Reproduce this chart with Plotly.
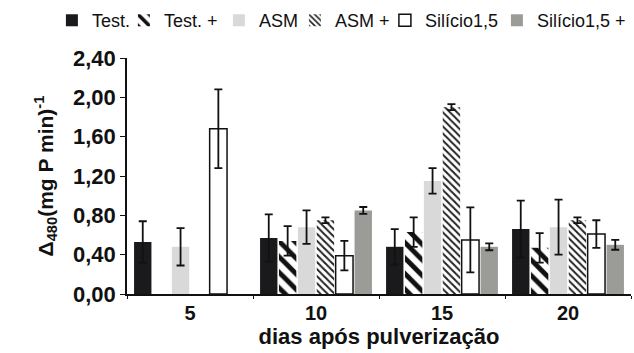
import plotly.graph_objects as go

categories = ["5", "10", "15", "20"]

series_names = ["Test.", "Test. +", "ASM", "ASM +", "Silício1,5", "Silício1,5 +"]

test_vals = [0.53, 0.57, 0.48, 0.66]
test_err = [0.21, 0.24, 0.18, 0.29]

testp_vals = [None, 0.54, 0.63, 0.47]
testp_err = [None, 0.15, 0.15, 0.15]

asm_vals = [0.48, 0.68, 1.15, 0.68]
asm_err = [0.19, 0.17, 0.13, 0.28]

asmp_vals = [None, 0.75, 1.90, 0.75]
asmp_err = [None, 0.03, 0.03, 0.03]

sil_vals = [1.68, 0.39, 0.55, 0.61]
sil_err = [0.40, 0.15, 0.33, 0.14]

silp_vals = [None, 0.85, 0.48, 0.50]
silp_err = [None, 0.035, 0.035, 0.05]

y_ticks = [0, 0.4, 0.8, 1.2, 1.6, 2.0, 2.4]

FONT = "Liberation Sans, Arial, sans-serif"

styles = [
    dict(color="#1a1a1d", line=dict(width=0)),
    dict(color="white", line=dict(width=0),
         pattern=dict(shape="\\", fgcolor="#111111", bgcolor="white", size=11,
                      solidity=0.45, fgopacity=1)),
    dict(color="#d9d9d9", line=dict(width=0)),
    dict(color="white", line=dict(width=0),
         pattern=dict(shape="\\", fgcolor="#222222", bgcolor="white", size=5,
                      solidity=0.4, fgopacity=1)),
    dict(color="white", line=dict(width=1.5, color="#111111")),
    dict(color="#9b9b97", line=dict(width=0)),
]
legend_widths = [27, 50, 31, 45, 67, 90]

vals = [test_vals, testp_vals, asm_vals, asmp_vals, sil_vals, silp_vals]
errs = [test_err, testp_err, asm_err, asmp_err, sil_err, silp_err]

fig = go.Figure()
for name, v, e, st, lw in zip(series_names, vals, errs, styles, legend_widths):
    fig.add_trace(go.Bar(
        x=categories, y=v, name=name, marker=st, legendwidth=lw,
        error_y=dict(type="data", array=e, visible=True, color="#111111",
                     thickness=1.8, width=4),
    ))

fig.update_layout(
    width=634, height=353,
    margin=dict(l=127, r=3, t=58, b=59, autoexpand=False),
    paper_bgcolor="white", plot_bgcolor="white",
    barmode="group", bargap=0.1, bargroupgap=0.08,
    separators=",.",
    font=dict(family=FONT, color="#111111"),
    showlegend=True,
    legend=dict(orientation="h", x=-0.149, xanchor="left", xref="paper",
                y=1.237, yref="paper", yanchor="top",
                font=dict(size=18, family=FONT), traceorder="normal",
                itemwidth=30, tracegroupgap=0, bgcolor="rgba(0,0,0,0)"),
    xaxis=dict(type="category", showline=True, linecolor="#111111", linewidth=2,
               ticks="outside", tickson="boundaries", ticklen=3, tickcolor="#111111",
               tickfont=dict(size=20, family=FONT, weight="bold"),
               title=dict(text="<b>dias após pulverização</b>", font=dict(size=22, family=FONT), standoff=4),
               showgrid=False),
    yaxis=dict(range=[0, 2.4], tickvals=y_ticks, tickformat=".2f",
               showline=True, linecolor="#111111", linewidth=1.5,
               ticks="outside", ticklen=5, tickcolor="#111111",
               tickfont=dict(size=22, family=FONT, weight="bold"),
               title=dict(text="<b>Δ<sub>480</sub>(mg P min)<sup>-1</sup></b>", font=dict(size=21, family=FONT), standoff=14),
               showgrid=False, zeroline=False),
)

fig.write_html("out.html")
